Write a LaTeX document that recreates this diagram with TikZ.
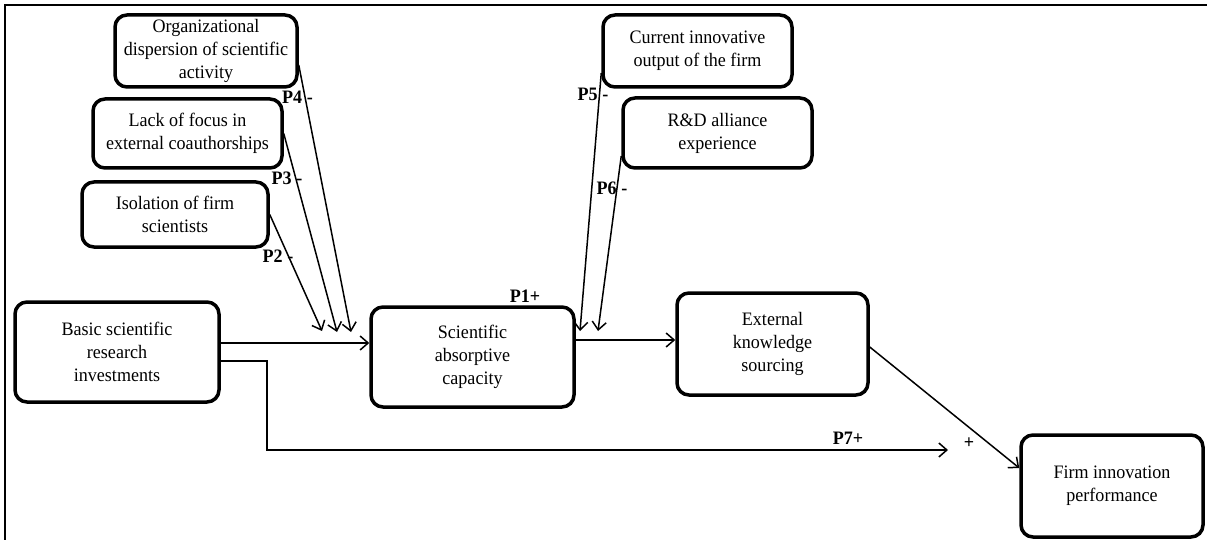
\documentclass[tikz,border=0pt]{standalone}
\usepackage{fontspec}
\setmainfont{Liberation Serif}[FakeStretch=0.95]
\usetikzlibrary{arrows.meta,calc}
\begin{document}
\begin{tikzpicture}[x=1pt,y=-1pt,
  box/.style={draw, line width=3.5pt, rounded corners=12pt, align=center,
    font=\fontsize{19}{23}\selectfont, inner sep=0pt},
  arr/.style={line width=1.5pt, -{Straight Barb[length=8pt,width=14pt,line width=1.5pt]}},
  lbl/.style={font=\fontsize{19}{20}\selectfont\bfseries, inner sep=0pt}]
\useasboundingbox (0,0) rectangle (1207,540);
\draw[line width=2pt] (5,540) -- (5,5) -- (1207,5);

% boxes
\node[box, minimum width=182pt, minimum height=72pt] (org) at (206,51) {Organizational\\dispersion of scientific\\activity};
\node[box, minimum width=189pt, minimum height=69pt] (lack) at (187.5,133.5) {Lack of focus in\\external coauthorships};
\node[box, minimum width=186pt, minimum height=65pt] (iso) at (175,214.5) {Isolation of firm\\scientists};
\node[box, minimum width=204pt, minimum height=100pt] (basic) at (117,352) {Basic scientific\\research\\investments};
\node[box, minimum width=203pt, minimum height=100pt] (sci) at (472.5,357) {Scientific\\absorptive\\capacity};
\node[box, minimum width=191pt, minimum height=102pt] (ext) at (772.5,344) {External\\knowledge\\sourcing};
\node[box, minimum width=182pt, minimum height=102pt] (firm) at (1112,486) {Firm innovation\\performance};
\node[box, minimum width=189pt, minimum height=72pt] (cur) at (697.5,51) {Current innovative\\output of the firm};
\node[box, minimum width=189pt, minimum height=70pt] (rd) at (717.5,133) {R\&D alliance\\experience};

% coordinates
\coordinate (b1) at ($(basic.east)+(0,-9)$);
\coordinate (b2) at ($(basic.east)+(0,9)$);
\coordinate (bend) at (267,450);
\coordinate (p7tip) at (948,450);
\coordinate (s1) at ($(sci.east)+(0,-17)$);
\coordinate (t2) at (322,331);
\coordinate (t3) at (337,332);
\coordinate (t4) at (351,332);
\coordinate (t5) at (580,331);
\coordinate (t6) at (598,331);

% connectors
\draw[arr] (b1) -- (sci.west |- b1);
\draw[arr] (b2) -| (bend) -- (p7tip);
\draw[arr] (s1) -- (ext.west |- s1);
\draw[arr] ($(ext.east)+(0,3)$) -- ($(firm.west)+(0,-18)$);
\draw[arr] ($(org.east)+(0,14)$) -- (t4);
\draw[arr] (lack.east) -- (t3);
\draw[arr] (iso.east) -- (t2);
\draw[arr] ($(cur.west)+(0,22)$) -- (t5);
\draw[arr] ($(rd.west)+(0,23)$) -- (t6);

% labels
\node[lbl] (l4) at (297.5,97) {P4 -};
\node[lbl] (l3) at (287,178) {P3 -};
\node[lbl] (l2) at (278,256) {P2 -};
\node[lbl] (l5) at (593,94) {P5 -};
\node[lbl] (l6) at (612,188) {P6 -};
\node[lbl] (l1) at (525,296) {P1+};
\node[lbl] (l7) at (848,438) {P7+};
\node[lbl] (lp) at (969,443) {+};
\end{tikzpicture}
\end{document}
